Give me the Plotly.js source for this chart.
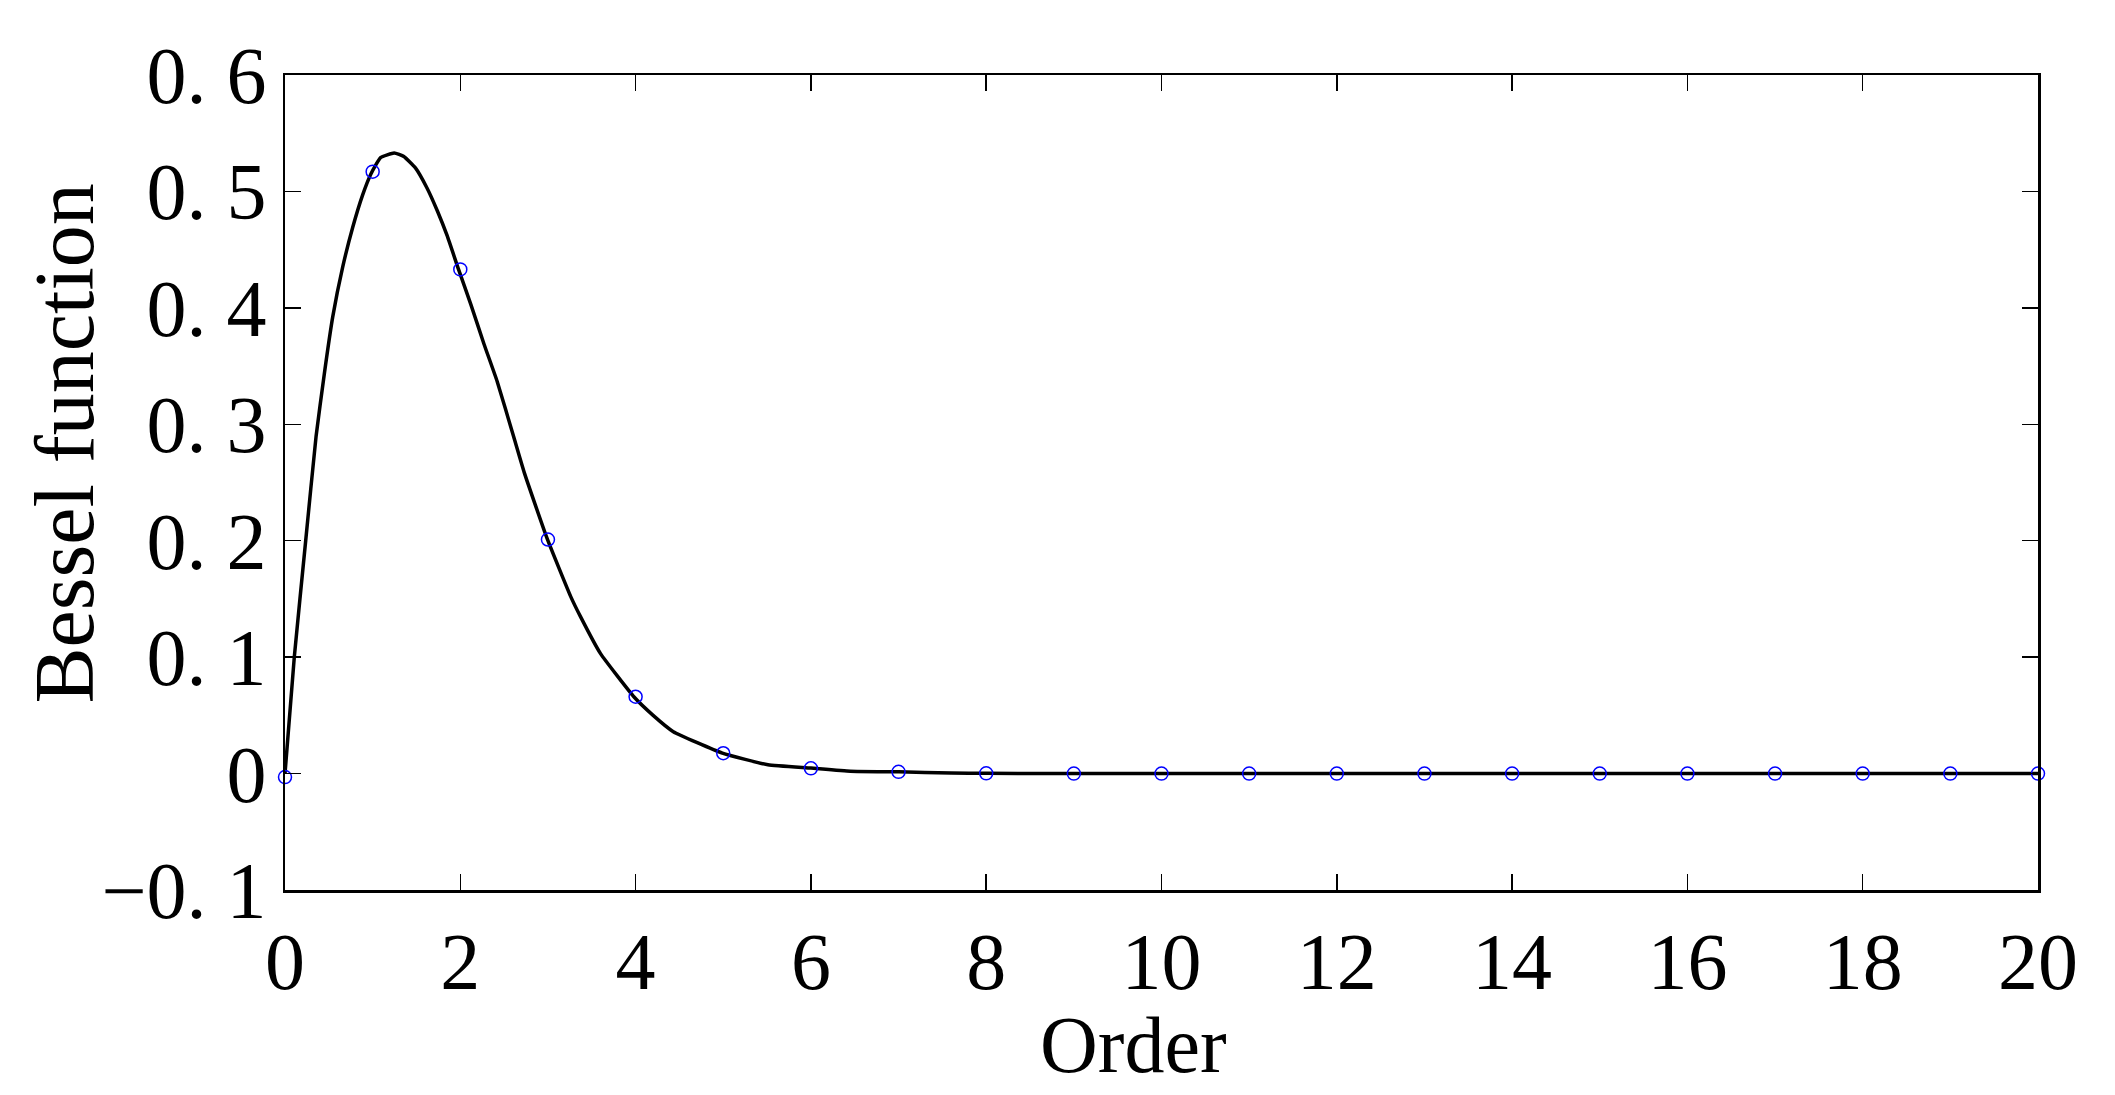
<!DOCTYPE html>
<html>
<head>
<meta charset="utf-8">
<script src="https://cdn.plot.ly/plotly-3.0.1.min.js"></script>
<style>html,body{margin:0;padding:0;background:#fff;}#chart{width:2115px;height:1095px;}</style>
</head>
<body>
<div id="chart"></div>
<script>
// Continuous curve (order, value)
const curveOrder = [0, 0.106, 0.236, 0.355, 0.448, 0.544, 0.658, 0.772, 0.886, 0.98, 1.09, 1.246, 1.356, 1.49, 1.62, 1.74, 1.85, 1.98, 2.12, 2.27, 2.42, 2.61, 2.73, 2.99, 3.26, 3.37, 3.60, 3.98, 4.2, 4.43, 4.99, 5.51, 6.0, 6.45, 7.0, 7.6, 8, 9, 10, 12, 14, 16, 18, 20];
const curveValue = [0, 0.10, 0.20, 0.29, 0.343, 0.392, 0.435, 0.469, 0.497, 0.515, 0.529, 0.533, 0.530, 0.520, 0.503, 0.483, 0.462, 0.433, 0.403, 0.369, 0.337, 0.289, 0.2585, 0.202, 0.152, 0.135, 0.103, 0.066, 0.050, 0.036, 0.0176, 0.0075, 0.0047, 0.002, 0.0015, 0.0005, 0.0002, 0, 0, 0, 0, 0, 0, 0];

// Sampled integer orders (blue circles)
const markerOrder = [0, 1, 2, 3, 4, 5, 6, 7, 8, 9, 10, 11, 12, 13, 14, 15, 16, 17, 18, 19, 20];
const markerValue = [-0.003, 0.517, 0.433, 0.201, 0.066, 0.0175, 0.0045, 0.0015, 0.0002, 0, 0, 0, 0, 0, 0, 0, 0, 0, 0, 0, 0];

const xTickVals = [0, 2, 4, 6, 8, 10, 12, 14, 16, 18, 20];
const xTickText = ["0", "2", "4", "6", "8", "10", "12", "14", "16", "18", "20"];
const yTickVals = [-0.1, 0, 0.1, 0.2, 0.3, 0.4, 0.5, 0.6];
const yTickText = ["\u22120. 1", "0", "0. 1", "0. 2", "0. 3", "0. 4", "0. 5", "0. 6"];

const xTitle = 'Order';
const yTitle = 'Bessel function';

const font = "Liberation Serif, Times New Roman, serif";

const traces = [
  {
    x: curveOrder, y: curveValue, type: 'scatter', mode: 'lines',
    line: {color: '#000000', width: 3.5, shape: 'spline', smoothing: 0.4},
    hoverinfo: 'skip', showlegend: false
  },
  {
    x: markerOrder, y: markerValue, type: 'scatter', mode: 'markers',
    marker: {symbol: 'circle-open', size: 13, color: '#0000ff', line: {width: 1.5, color: '#0000ff'}},
    cliponaxis: false, showlegend: false
  }
];

const layout = {
  width: 2115, height: 1095,
  paper_bgcolor: '#ffffff', plot_bgcolor: '#ffffff',
  margin: {l: 285, r: 77, t: 75, b: 205},
  font: {family: font, color: '#000000', size: 80},
  xaxis: {
    range: [0, 20], tickvals: xTickVals, ticktext: xTickText,
    ticks: 'inside', ticklen: 16, tickwidth: 1.5, tickcolor: '#000',
    showline: true, linewidth: 2.5, linecolor: '#000', mirror: 'ticks',
    showgrid: false, zeroline: false,
    tickfont: {family: font, size: 80, color: '#000'}
  },
  yaxis: {
    range: [-0.1, 0.6], tickvals: yTickVals, ticktext: yTickText,
    ticks: 'inside', ticklen: 16, tickwidth: 1.5, tickcolor: '#000',
    showline: true, linewidth: 2.5, linecolor: '#000', mirror: 'ticks',
    showgrid: false, zeroline: false,
    tickfont: {family: font, size: 80, color: '#000'}
  },
  annotations: [
    {text: xTitle, xref: 'paper', yref: 'paper', x: 0.484, y: -0.19, xanchor: 'center', yanchor: 'middle',
     showarrow: false, font: {family: font, size: 80, color: '#000'}},
    {text: yTitle, xref: 'paper', yref: 'paper', x: -0.126, y: 0.548, xanchor: 'center', yanchor: 'middle',
     textangle: -90, showarrow: false, font: {family: font, size: 84, color: '#000'}}
  ],
  showlegend: false
};

Plotly.newPlot('chart', traces, layout, {staticPlot: true, displayModeBar: false});
</script>
</body>
</html>
